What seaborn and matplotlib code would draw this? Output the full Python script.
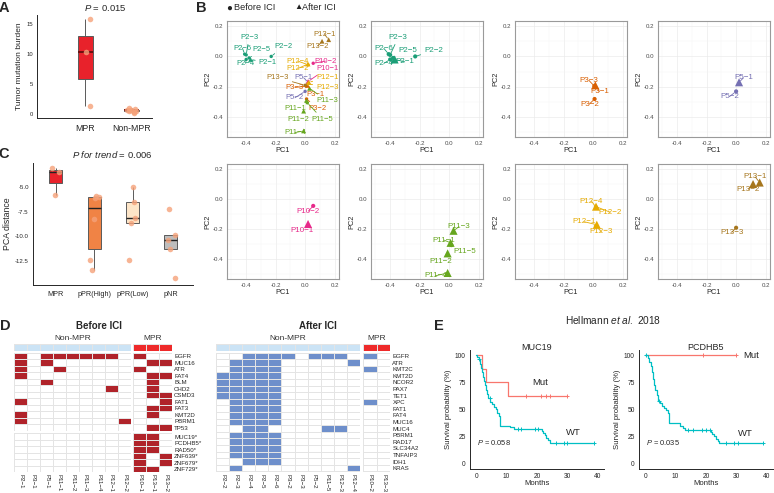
import matplotlib
matplotlib.use("Agg")
import matplotlib.pyplot as plt
import numpy as np
import pandas as pd
import seaborn as sns
from matplotlib.colors import ListedColormap
from matplotlib.ticker import FormatStrFormatter

# ==========================================
# --- DATA ---
# ==========================================
# A: tumor mutation burden
TMB_GROUPS = ["MPR", "Non-MPR"]
TMB_MPR = [15.8, 10.3, 1.3]
TMB_NON_MPR = [0.15, 0.35, 0.45, 0.5, 0.6, 0.65, 0.7, 0.85, 1.0]

# C: PCA distance
PCA_GROUPS = ["MPR", "pPR(High)", "pPR(Low)", "pNR"]
PCA_MPR = [-3.05, -3.4, -5.75]
PCA_PPR_HIGH = [-5.85, -5.97, -6.1, -8.2, -12.4, -13.5]
PCA_PPR_LOW = [-4.93, -6.5, -8.1, -8.6, -12.4]
PCA_PNR = [-7.22, -9.88, -10.36, -11.28, -14.3]

# B: PCA of samples
PATIENTS = ["P2", "P3", "P5", "P10", "P11", "P12", "P13"]
SAMPLES = ["P2-1", "P2-2", "P2-3", "P2-4", "P2-5", "P2-6",
           "P3-1", "P3-2", "P3-3", "P5-1", "P5-2", "P10-1", "P10-2",
           "P11-1", "P11-2", "P11-3", "P11-4", "P11-5",
           "P12-1", "P12-2", "P12-3", "P12-4", "P13-1", "P13-2", "P13-3"]
SAMPLE_TIME = ["Before", "After", "After", "After", "After", "After",
               "Before", "After", "After", "Before", "After", "Before", "After",
               "Before", "Before", "Before", "Before", "After",
               "Before", "Before", "After", "After", "Before", "Before", "After"]
PC1 = [-0.37, -0.23, -0.40, -0.40, -0.38, -0.41,
       0.015, 0.01, 0.008, 0.02, 0.0, 0.02, 0.055,
       0.01, -0.01, 0.03, -0.01, 0.015,
       0.025, 0.02, 0.02, 0.02, 0.16, 0.115, 0.0]
PC2 = [-0.02, 0.0, 0.01, -0.02, -0.01, 0.015,
       -0.19, -0.28, -0.195, -0.17, -0.23, -0.165, -0.045,
       -0.29, -0.36, -0.21, -0.49, -0.305,
       -0.17, -0.05, -0.18, -0.055, 0.11, 0.10, -0.19]

# D: mutation heatmaps
BEFORE_NON_MPR = ["P2-1", "P3-1", "P5-1", "P11-1", "P11-2", "P11-3", "P11-4", "P12-1", "P12-2"]
BEFORE_MPR = ["P10-1", "P13-1", "P13-2"]
BEFORE_GENES = ["EGFR", "MUC16", "ATR", "FAT4", "BLM", "CHD2", "CSMD3", "FAT1",
                "FAT3", "KMT2D", "PBRM1", "TP53"]
BEFORE_MPR_GENES = ["MUC19", "PCDHB5", "RAD50", "ZNF639", "ZNF679", "ZNF729"]
BEFORE_MUT = [
    [1, 0, 1, 1, 1, 1, 1, 1, 0, 1, 0, 0],  # EGFR
    [1, 0, 1, 0, 0, 0, 0, 0, 0, 0, 1, 1],  # MUC16
    [1, 0, 0, 1, 0, 0, 0, 0, 0, 1, 0, 0],  # ATR
    [1, 0, 0, 0, 0, 0, 0, 0, 0, 0, 1, 1],  # FAT4
    [0, 0, 1, 0, 0, 0, 0, 0, 0, 0, 1, 0],  # BLM
    [0, 0, 0, 0, 0, 0, 0, 1, 0, 0, 1, 0],  # CHD2
    [0, 0, 0, 0, 0, 0, 0, 0, 0, 0, 1, 1],  # CSMD3
    [1, 0, 0, 0, 0, 0, 0, 0, 0, 0, 0, 1],  # FAT1
    [0, 0, 0, 0, 0, 0, 0, 0, 0, 0, 1, 1],  # FAT3
    [1, 0, 0, 0, 0, 0, 0, 0, 0, 0, 1, 0],  # KMT2D
    [1, 0, 0, 0, 0, 0, 0, 0, 1, 0, 0, 0],  # PBRM1
    [0, 0, 0, 0, 0, 0, 0, 0, 0, 0, 1, 1],  # TP53
]
BEFORE_MPR_MUT = [
    [0, 0, 0, 0, 0, 0, 0, 0, 0, 1, 1, 0],  # MUC19
    [0, 0, 0, 0, 0, 0, 0, 0, 0, 1, 1, 0],  # PCDHB5
    [0, 0, 0, 0, 0, 0, 0, 0, 0, 1, 1, 0],  # RAD50
    [0, 0, 0, 0, 0, 0, 0, 0, 0, 1, 0, 1],  # ZNF639
    [0, 0, 0, 0, 0, 0, 0, 0, 0, 1, 0, 1],  # ZNF679
    [0, 0, 0, 0, 0, 0, 0, 0, 0, 1, 1, 0],  # ZNF729
]
AFTER_NON_MPR = ["P2-2", "P2-3", "P2-4", "P2-5", "P2-6", "P3-2", "P3-3", "P5-2",
                 "P11-5", "P12-3", "P12-4"]
AFTER_MPR = ["P10-2", "P13-3"]
AFTER_GENES = ["EGFR", "ATR", "KMT2C", "KMT2D", "NCOR2", "PAX7", "TET1", "XPC", "FAT1",
               "FAT4", "MUC16", "MUC4", "PBRM1", "RAD17", "SLC34A2", "TNFAIP3", "IDH1", "KRAS"]
AFTER_MUT = [
    [0, 0, 1, 1, 1, 1, 0, 1, 1, 1, 0, 1, 0],  # EGFR
    [0, 1, 1, 1, 1, 0, 0, 0, 0, 0, 1, 0, 0],  # ATR
    [0, 1, 1, 1, 1, 0, 0, 0, 0, 0, 0, 1, 0],  # KMT2C
    [1, 1, 1, 1, 1, 0, 0, 0, 0, 0, 0, 0, 0],  # KMT2D
    [1, 1, 1, 1, 1, 0, 0, 0, 0, 0, 0, 0, 0],  # NCOR2
    [1, 1, 1, 1, 1, 0, 0, 0, 0, 0, 0, 0, 0],  # PAX7
    [1, 1, 1, 1, 1, 0, 0, 0, 0, 0, 0, 0, 0],  # TET1
    [0, 1, 1, 1, 1, 0, 0, 0, 0, 0, 0, 1, 0],  # XPC
    [0, 1, 1, 1, 1, 0, 0, 0, 0, 0, 0, 0, 0],  # FAT1
    [0, 1, 1, 1, 1, 0, 0, 0, 0, 0, 0, 0, 0],  # FAT4
    [0, 1, 1, 1, 1, 0, 0, 0, 0, 0, 0, 0, 0],  # MUC16
    [0, 0, 1, 1, 0, 0, 0, 0, 1, 1, 0, 0, 0],  # MUC4
    [0, 1, 1, 1, 1, 0, 0, 0, 0, 0, 0, 0, 0],  # PBRM1
    [0, 1, 1, 1, 1, 0, 0, 0, 0, 0, 0, 0, 0],  # RAD17
    [0, 1, 1, 1, 1, 0, 0, 0, 0, 0, 0, 0, 0],  # SLC34A2
    [0, 1, 1, 1, 1, 0, 0, 0, 0, 0, 0, 0, 0],  # TNFAIP3
    [0, 0, 1, 1, 1, 0, 0, 0, 0, 0, 0, 0, 0],  # IDH1
    [0, 1, 0, 0, 0, 0, 0, 0, 0, 0, 1, 0, 0],  # KRAS
]

# E: Kaplan-Meier (Hellmann et al. 2018)
MUC19_WT_T = [0, 0.4, 0.8, 1.2, 1.6, 2.0, 2.3, 2.6, 3.0, 3.3, 3.6, 4.0, 4.6, 5.2, 5.8,
              6.4, 7.0, 7.6, 7.9, 11.0, 12.5, 21.5, 22.0, 22.5, 23.0, 23.6, 24.2, 38.7]
MUC19_WT_S = [100, 98, 96, 92, 88, 84, 80, 76, 72, 68, 64, 60, 57, 55, 52,
              50, 47, 44, 35, 33.5, 31.5, 30, 28, 26, 24, 22, 19, 19]
MUC19_WT_CENS = [1.0, 4.5, 13.7, 14.7, 19.3, 20.4, 26.4, 28.9, 29.7, 38.7]
MUC19_MUT_T = [0, 2.0, 3.2, 10.6, 30.0]
MUC19_MUT_S = [100, 87.5, 75, 62.5, 62.5]
MUC19_MUT_CENS = [16.4, 21.2, 22.9, 24.3, 30.0]
PCDHB5_WT_T = [0, 0.8, 1.3, 1.8, 2.2, 2.6, 3.0, 3.4, 3.8, 4.3, 5.0, 5.6, 6.2, 6.8,
               7.4, 8.0, 11.5, 12.3, 13.2, 21.5, 22.0, 22.6, 23.2, 23.8, 24.2, 38.7]
PCDHB5_WT_S = [100, 97, 94, 90, 84, 78, 72, 68, 63, 58, 56, 53, 51, 49,
               47, 37, 35, 33, 31, 29, 27, 25, 23, 21, 19, 19]
PCDHB5_WT_CENS = [0.3, 4.5, 14.1, 15.7, 18.8, 20.1, 21.2, 26.5, 29.1, 30.5, 38.7]
PCDHB5_MUT_T = [0, 30.0]
PCDHB5_MUT_S = [100, 100]
PCDHB5_MUT_CENS = [19.0, 30.0]

# ==========================================
# --- STYLE ---
# ==========================================
W, H = 774, 493
PATIENT_COLORS = dict(zip(PATIENTS, sns.color_palette("Dark2", 7)))
POINT_COLOR = "#F5A27A"
MUT_RED = "#B0232A"
MUT_BLUE = "#6E8FCB"
HEAD_LIGHT = "#CBE3F5"
HEAD_RED = "#EE2A2A"
KM_MUT = "#F8766D"
KM_WT = "#00BFC4"

# label positions (data units) for the repelled sample labels
LABEL_POS_ALL = {
    "P2-3": (-0.38, 0.123), "P2-6": (-0.425, 0.053), "P2-5": (-0.295, 0.045),
    "P2-2": (-0.15, 0.063), "P2-4": (-0.404, -0.045), "P2-1": (-0.255, -0.04),
    "P13-1": (0.132, 0.145), "P13-2": (0.087, 0.068), "P12-4": (-0.048, -0.031),
    "P10-2": (0.138, -0.031), "P12-2": (-0.048, -0.079), "P10-1": (0.149, -0.079),
    "P13-3": (-0.185, -0.14), "P5-1": (-0.01, -0.14), "P12-1": (0.149, -0.14),
    "P3-3": (-0.069, -0.204), "P12-3": (0.149, -0.204), "P5-2": (-0.069, -0.272),
    "P3-1": (0.068, -0.252), "P11-3": (0.15, -0.292), "P11-1": (-0.069, -0.342),
    "P3-2": (0.087, -0.342), "P11-2": (-0.048, -0.412), "P11-5": (0.118, -0.412),
    "P11-4": (-0.069, -0.501),
}
LABEL_POS_SINGLE = {
    "P2-3": (-0.346, 0.123), "P2-6": (-0.443, 0.053), "P2-5": (-0.28, 0.037),
    "P2-2": (-0.107, 0.037), "P2-4": (-0.443, -0.046), "P2-1": (-0.302, -0.035),
    "P3-3": (-0.029, -0.157), "P3-1": (0.043, -0.23), "P3-2": (-0.025, -0.313),
    "P5-1": (0.05, -0.141), "P5-2": (-0.046, -0.265),
    "P10-2": (0.022, -0.08), "P10-1": (-0.024, -0.21),
    "P11-3": (0.067, -0.183), "P11-1": (-0.034, -0.272), "P11-5": (0.108, -0.35),
    "P11-2": (-0.056, -0.415), "P11-4": (-0.094, -0.509),
    "P12-4": (-0.011, -0.013), "P12-2": (0.116, -0.087), "P12-1": (-0.061, -0.15),
    "P12-3": (0.057, -0.217),
    "P13-1": (0.13, 0.147), "P13-2": (0.084, 0.065), "P13-3": (-0.03, -0.221),
}

sns.set_style("white")
plt.rcParams["font.family"] = ["Liberation Sans", "DejaVu Sans"]
plt.rcParams["mathtext.fontset"] = "custom"
plt.rcParams["mathtext.rm"] = "Liberation Sans"
plt.rcParams["mathtext.it"] = "Liberation Sans:italic"
plt.rcParams["axes.unicode_minus"] = False

fig = plt.figure(figsize=(W / 100, H / 100), dpi=100)


def add_ax(x0, y0, x1, y1):
    return fig.add_axes([x0 / W, 1 - y1 / H, (x1 - x0) / W, (y1 - y0) / H])


def ftext(x, y, s, **kw):
    kw.setdefault("ha", "center")
    kw.setdefault("va", "center")
    fig.text(x / W, 1 - y / H, s, **kw)


def nice(name):
    return name.replace("-", "\u2212")


# ==========================================
# --- A: TMB boxplot ---
# ==========================================
ax = add_ax(37, 15, 152, 118)
df_tmb = pd.DataFrame({
    "group": ["MPR"] * len(TMB_MPR) + ["Non-MPR"] * len(TMB_NON_MPR),
    "value": TMB_MPR + TMB_NON_MPR,
})
sns.boxplot(data=df_tmb, x="group", y="value", hue="group", order=TMB_GROUPS,
            palette={"MPR": "#E8222B", "Non-MPR": "#8A8A8A"}, saturation=1,
            width=0.32, showfliers=False, showcaps=False, linecolor="#5A5A5A",
            linewidth=0.7, medianprops={"color": "#6E1010", "linewidth": 1.4},
            legend=False, ax=ax)
np.random.seed(4)
sns.stripplot(data=df_tmb, x="group", y="value", order=TMB_GROUPS, color=POINT_COLOR,
              alpha=0.8, size=4, jitter=0.1, linewidth=0, ax=ax)
ax.set_xlim(-1.03, 1.43)
ax.set_ylim(-0.7, 16.5)
ax.set_yticks([0, 5, 10, 15])
ax.set_xlabel("")
ax.set_ylabel("Tumor mutation burden", fontsize=6, labelpad=2)
ax.tick_params(axis="y", labelsize=4.2, length=2, width=0.5, pad=1)
ax.tick_params(axis="x", labelsize=6.3, length=2, width=0.5, pad=2)
sns.despine(ax=ax)
for sp in ax.spines.values():
    sp.set_linewidth(0.7)
ftext(105, 8, r"$\it{P}$ = 0.015", fontsize=6.8)

# ==========================================
# --- C: PCA distance boxplot ---
# ==========================================
ax = add_ax(33, 163, 193, 285)
df_pca_d = pd.DataFrame({
    "group": (["MPR"] * len(PCA_MPR) + ["pPR(High)"] * len(PCA_PPR_HIGH)
              + ["pPR(Low)"] * len(PCA_PPR_LOW) + ["pNR"] * len(PCA_PNR)),
    "value": PCA_MPR + PCA_PPR_HIGH + PCA_PPR_LOW + PCA_PNR,
})
sns.boxplot(data=df_pca_d, x="group", y="value", hue="group", order=PCA_GROUPS,
            palette={"MPR": "#E8222B", "pPR(High)": "#F08345", "pPR(Low)": "#FDE5C8",
                     "pNR": "#BDBDBD"}, saturation=1,
            width=0.34, showfliers=False, showcaps=False, linecolor="#5A5A5A",
            linewidth=0.7, medianprops={"color": "#222222", "linewidth": 1.0},
            legend=False, ax=ax)
np.random.seed(7)
sns.stripplot(data=df_pca_d, x="group", y="value", order=PCA_GROUPS, color=POINT_COLOR,
              alpha=0.8, size=4, jitter=0.12, linewidth=0, ax=ax)
ax.set_xlim(-0.6, 3.58)
ax.set_ylim(-15, -2.5)
ax.set_yticks([-5, -7.5, -10, -12.5])
ax.yaxis.set_major_formatter(FormatStrFormatter("%.1f"))
ax.set_xlabel("")
ax.set_ylabel("PCA distance", fontsize=6.3, labelpad=2)
ax.tick_params(axis="y", labelsize=4.4, length=2, width=0.5, pad=1)
ax.tick_params(axis="x", labelsize=5.2, length=2, width=0.5, pad=2)
sns.despine(ax=ax)
for sp in ax.spines.values():
    sp.set_linewidth(0.7)
ftext(112, 155, r"$\it{P\ for\ trend}$ = 0.006", fontsize=6.8)

# ==========================================
# --- B: PCA scatter panels ---
# ==========================================
df_pca = pd.DataFrame({"sample": SAMPLES, "time": SAMPLE_TIME, "PC1": PC1, "PC2": PC2})
df_pca["patient"] = df_pca["sample"].str.split("-").str[0]


def style_pca(ax):
    ax.set_xlim(-0.53, 0.23)
    ax.set_ylim(-0.53, 0.233)
    ticks = [-0.4, -0.2, 0.0, 0.2]
    minor = [-0.5, -0.3, -0.1, 0.1]
    ax.set_xticks(ticks)
    ax.set_yticks(ticks)
    ax.set_xticks(minor, minor=True)
    ax.set_yticks(minor, minor=True)
    ax.xaxis.set_major_formatter(FormatStrFormatter("%.1f"))
    ax.yaxis.set_major_formatter(FormatStrFormatter("%.1f"))
    ax.grid(True, which="major", color="#EBEBEB", lw=0.5)
    ax.grid(True, which="minor", color="#F5F5F5", lw=0.3)
    ax.set_axisbelow(True)
    ax.tick_params(which="major", labelsize=4.4, length=1.8, width=0.5, pad=1,
                   colors="#4D4D4D", labelcolor="#4D4D4D")
    ax.tick_params(which="minor", length=0)
    for sp in ax.spines.values():
        sp.set_color("#9A9A9A")
        sp.set_linewidth(0.8)
    ax.set_xlabel("PC1", fontsize=5.3, labelpad=1)
    ax.set_ylabel("PC2", fontsize=5.3, labelpad=1)


def draw_pca(ax, sub, label_pos, sizes, fsize):
    sns.scatterplot(data=sub, x="PC1", y="PC2", hue="patient", palette=PATIENT_COLORS,
                    style="time", markers={"Before": "^", "After": "o"},
                    size="time", sizes=sizes, linewidth=0, legend=False, ax=ax, zorder=3)
    for _, r in sub.iterrows():
        col = PATIENT_COLORS[r["patient"]]
        ax.annotate(nice(r["sample"]), xy=(r["PC1"], r["PC2"]), xytext=label_pos[r["sample"]],
                    textcoords="data", color=col, fontsize=fsize, ha="center", va="center",
                    arrowprops=dict(arrowstyle="-", color=col, lw=0.6, shrinkA=0, shrinkB=1.5),
                    zorder=4)
    style_pca(ax)


col_left = [227, 371, 515, 658]
row_y = [(21, 137), (164, 279)]
panel_width = 112

ax = add_ax(col_left[0], row_y[0][0], col_left[0] + panel_width, row_y[0][1])
draw_pca(ax, df_pca, LABEL_POS_ALL, {"Before": 12, "After": 6}, 5.5)

panel_slots = [(0, 1), (0, 2), (0, 3), (1, 0), (1, 1), (1, 2), (1, 3)]
for patient, (ri, ci) in zip(PATIENTS, panel_slots):
    ax = add_ax(col_left[ci], row_y[ri][0], col_left[ci] + panel_width, row_y[ri][1])
    sub = df_pca[df_pca["patient"] == patient]
    draw_pca(ax, sub, LABEL_POS_SINGLE, {"Before": 34, "After": 9}, 5.8)

# legend for B
ftext(229, 8, "\u25CF", fontsize=7, color="#222222")
ftext(234, 8, "Before ICI", fontsize=6.6, ha="left")
ftext(298, 7.5, "\u25B2", fontsize=6, color="#222222")
ftext(302.5, 8, "After ICI", fontsize=6.6, ha="left")

# ==========================================
# --- D: mutation heatmaps ---
# ==========================================


def heat_block(x0, y0, x1, y1, mat, color, ylabels=None, xlabels=None):
    ax = add_ax(x0, y0, x1, y1)
    sns.heatmap(np.array(mat), ax=ax, cmap=ListedColormap(["white", color]), vmin=0, vmax=1,
                cbar=False, linewidths=0.5, linecolor="#E4E4E4",
                xticklabels=xlabels if xlabels is not None else False,
                yticklabels=ylabels if ylabels is not None else False)
    if ylabels is not None:
        ax.yaxis.tick_right()
        ax.set_yticklabels(ylabels, rotation=0, fontsize=4.4, ha="left")
    if xlabels is not None:
        ax.set_xticklabels([nice(s) for s in xlabels], rotation=270, fontsize=4.4)
    ax.tick_params(length=0, pad=1.5)
    return ax


def header(x0, x1, n, color):
    heat_block(x0, 344.3, x1, 350.7, [[1] * n], color)


bm = np.array(BEFORE_MUT)
bmm = np.array(BEFORE_MPR_MUT)
nb = len(BEFORE_NON_MPR)
header(14, 131, nb, HEAD_LIGHT)
header(133.3, 172, len(BEFORE_MPR), HEAD_RED)
heat_block(14, 352.8, 131, 430.8, bm[:, :nb], MUT_RED)
heat_block(133.3, 352.8, 172, 430.8, bm[:, nb:], MUT_RED, ylabels=BEFORE_GENES)
heat_block(14, 433.4, 131, 472.4, bmm[:, :nb], MUT_RED, xlabels=BEFORE_NON_MPR)
heat_block(133.3, 433.4, 172, 472.4, bmm[:, nb:], MUT_RED,
           ylabels=[g + "*" for g in BEFORE_MPR_GENES], xlabels=BEFORE_MPR)
ftext(99, 326, "Before ICI", fontsize=7, fontweight="bold")
ftext(72.5, 339, "Non-MPR", fontsize=6, color="#333333")
ftext(152.6, 339, "MPR", fontsize=6, color="#333333")

am = np.array(AFTER_MUT)
na = len(AFTER_NON_MPR)
header(216, 360, na, HEAD_LIGHT)
header(363.3, 390.3, len(AFTER_MPR), HEAD_RED)
heat_block(216, 352.7, 360, 471.5, am[:, :na], MUT_BLUE, xlabels=AFTER_NON_MPR)
heat_block(363.3, 352.7, 390.3, 471.5, am[:, na:], MUT_BLUE, ylabels=AFTER_GENES,
           xlabels=AFTER_MPR)
ftext(318, 326, "After ICI", fontsize=7, fontweight="bold")
ftext(288, 339, "Non-MPR", fontsize=6, color="#333333")
ftext(376.8, 339, "MPR", fontsize=6, color="#333333")

# ==========================================
# --- E: Kaplan-Meier curves ---
# ==========================================


def surv_at(times, surv, t):
    idx = np.searchsorted(np.array(times), np.array(t), side="right") - 1
    return np.array(surv)[idx]


def km_panel(x0, x1, title, curves, pval, mut_pos, wt_pos):
    ax = add_ax(x0, 349.6, x1, 469)
    for times, surv, cens, col in curves:
        sns.lineplot(x=times, y=surv, drawstyle="steps-post", estimator=None, sort=False,
                     color=col, lw=0.9, ax=ax)
        ax.plot(cens, surv_at(times, surv, cens), ls="none", marker="+", ms=3.5,
                mew=0.7, color=col)
    ax.set_xlim(-2, 42)
    ax.set_ylim(-5, 105)
    ax.set_xticks([0, 10, 20, 30, 40])
    ax.set_yticks([0, 25, 50, 75, 100])
    ax.tick_params(labelsize=4.8, length=2, width=0.5, pad=1)
    ax.set_xlabel("Months", fontsize=5.6, labelpad=0)
    ax.set_ylabel("Survival probability (%)", fontsize=5.6, labelpad=2)
    sns.despine(ax=ax)
    for sp in ax.spines.values():
        sp.set_linewidth(0.7)
    ax.text(0.5, 1.02, title, transform=ax.transAxes, ha="center", va="center", fontsize=6.5)
    ax.text(mut_pos[0], mut_pos[1], "Mut", fontsize=6.8, ha="center", va="center")
    ax.text(wt_pos[0], wt_pos[1], "WT", fontsize=6.8, ha="center", va="center")
    ax.text(0.3, 19, r"$\it{P}$ = " + pval, fontsize=5.4, ha="left", va="center")


km_panel(470, 604, "MUC19",
         [(MUC19_MUT_T, MUC19_MUT_S, MUC19_MUT_CENS, KM_MUT),
          (MUC19_WT_T, MUC19_WT_S, MUC19_WT_CENS, KM_WT)],
         "0.058", (21, 75), (32, 29))
km_panel(639, 773, "PCDHB5",
         [(PCDHB5_MUT_T, PCDHB5_MUT_S, PCDHB5_MUT_CENS, KM_MUT),
          (PCDHB5_WT_T, PCDHB5_WT_S, PCDHB5_WT_CENS, KM_WT)],
         "0.035", (35, 100), (33, 28))
ftext(613, 320, r"Hellmann $\it{et\ al.}$ 2018", fontsize=7.3)

# panel letters
for letter, (x, y) in {"A": (4, 8), "B": (201, 8), "C": (4, 154),
                       "D": (5, 325.5), "E": (438.5, 325.5)}.items():
    ftext(x, y, letter, fontsize=10.5, fontweight="bold")

fig.savefig("out.png", dpi=100)
